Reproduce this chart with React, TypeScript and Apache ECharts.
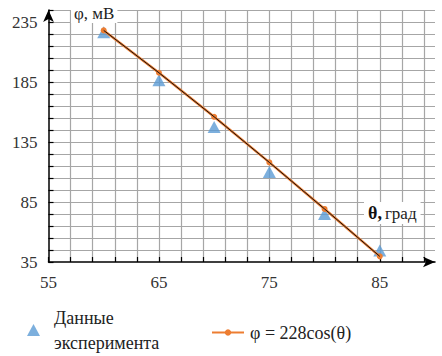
import React, { useEffect, useRef } from "react";
import * as echarts from "echarts";

const angles = [60, 65, 70, 75, 80, 85];
const experimentValues = [226.5, 186.5, 147.5, 110, 75, 44.5];
const modelValues = [228, 192.7, 156, 118, 79.2, 39.7];
const expName = "Данные\nэксперимента";
const modelName = "φ = 228cos(θ)";
const xLabels = [55, 65, 75, 85];
const yLabels = [35, 85, 135, 185, 235];

const FONT = "Liberation Serif";
const CSS = `#chartbox text, #chartbox tspan { font-family: "Liberation Serif", "Times New Roman", serif !important; }`;

export default function App() {
  const ref = useRef<HTMLDivElement>(null);
  useEffect(() => {
    if (!ref.current) return;
    const chart = echarts.init(ref.current, null, { renderer: "svg" });
    const expData = angles.map((a, i) => [a, experimentValues[i]]);
    const modelData = angles.map((a, i) => [a, modelValues[i]]);
    chart.setOption({
      animation: false,
      textStyle: { fontFamily: FONT },
      grid: { left: 48.5, right: 7, top: 10, bottom: 94, containLabel: false },
      xAxis: {
        type: "value",
        min: 55,
        max: 90,
        interval: 2,
        axisLine: {
          show: true,
          lineStyle: { color: "#000", width: 1.5 },
          symbol: ["none", "arrow"],
          symbolSize: [8, 12],
        },
        axisTick: { show: true, inside: true, length: 5, lineStyle: { color: "#000", width: 1.2 } },
        axisLabel: {
          margin: 12,
          fontSize: 17,
          fontFamily: FONT,
          color: "#333",
          showMaxLabel: false,
          formatter: (v: number) => (xLabels.includes(v) ? String(v) : ""),
        },
        splitLine: { show: true, showMinLine: false, showMaxLine: false, lineStyle: { color: "#A6A6A6", width: 1.2 } },
      },
      yAxis: {
        type: "value",
        min: 35,
        max: 245,
        interval: 10,
        axisLine: {
          show: true,
          lineStyle: { color: "#000", width: 1.5 },
          symbol: ["none", "arrow"],
          symbolSize: [8, 12],
        },
        axisTick: { show: true, inside: true, length: 5, lineStyle: { color: "#000", width: 1.2 } },
        axisLabel: {
          margin: 11,
          fontSize: 17,
          fontFamily: FONT,
          color: "#333",
          formatter: (v: number) => (yLabels.includes(v) ? String(v) : ""),
        },
        splitLine: { show: true, showMinLine: false, lineStyle: { color: "#A6A6A6", width: 1.2 } },
      },
      legend: [
        {
          data: [expName],
          left: 27,
          top: 305,
          padding: 0,
          itemWidth: 13,
          itemHeight: 12,
          selectedMode: false,
          textStyle: { fontSize: 18, fontFamily: FONT, color: "#222", lineHeight: 25, padding: [0, 0, 0, 9] },
        },
        {
          data: [modelName],
          left: 211,
          top: 320,
          padding: 0,
          itemWidth: 32,
          itemHeight: 8,
          selectedMode: false,
          textStyle: { fontSize: 18, fontFamily: FONT, color: "#222", lineHeight: 25, padding: [0, 0, 0, 1] },
        },
      ],
      graphic: [
        {
          type: "text",
          left: 71,
          top: 4,
          z: 100,
          style: {
            text: "φ, мВ",
            fontSize: 17,
            fontFamily: FONT,
            fill: "#222",
            backgroundColor: "#fff",
            padding: [1, 3, 1, 3],
          },
        },
        {
          type: "text",
          left: 364,
          top: 202,
          z: 100,
          style: {
            text: "{b|θ,}{n|град}",
            backgroundColor: "#fff",
            padding: [2, 4, 2, 4],
            rich: {
              b: { fontSize: 18, fontWeight: "bold", fontFamily: FONT, fill: "#111", padding: [0, 3, 0, 0] },
              n: { fontSize: 17, fontFamily: FONT, fill: "#222" },
            },
          },
        },
      ],
      series: [
        {
          name: expName,
          type: "scatter",
          data: expData,
          symbol: "triangle",
          symbolSize: [13, 12],
          itemStyle: { color: "#5B9BD5" },
          z: 2,
        },
        {
          name: modelName,
          type: "line",
          data: modelData,
          symbol: "circle",
          symbolSize: 6,
          showSymbol: true,
          lineStyle: { color: "#ED7D31", width: 2.5 },
          itemStyle: { color: "#ED7D31" },
          z: 3,
        },
        {
          name: "trend",
          type: "line",
          data: modelData,
          symbol: "none",
          lineStyle: { color: "#111", width: 1 },
          z: 4,
          silent: true,
        },
      ],
    });
    return () => chart.dispose();
  }, []);
  return (
    <>
      <style>{CSS}</style>
      <div id="chartbox" ref={ref} style={{ width: 442, height: 356, position: "absolute", left: 0, top: 0 }} />
    </>
  );
}
